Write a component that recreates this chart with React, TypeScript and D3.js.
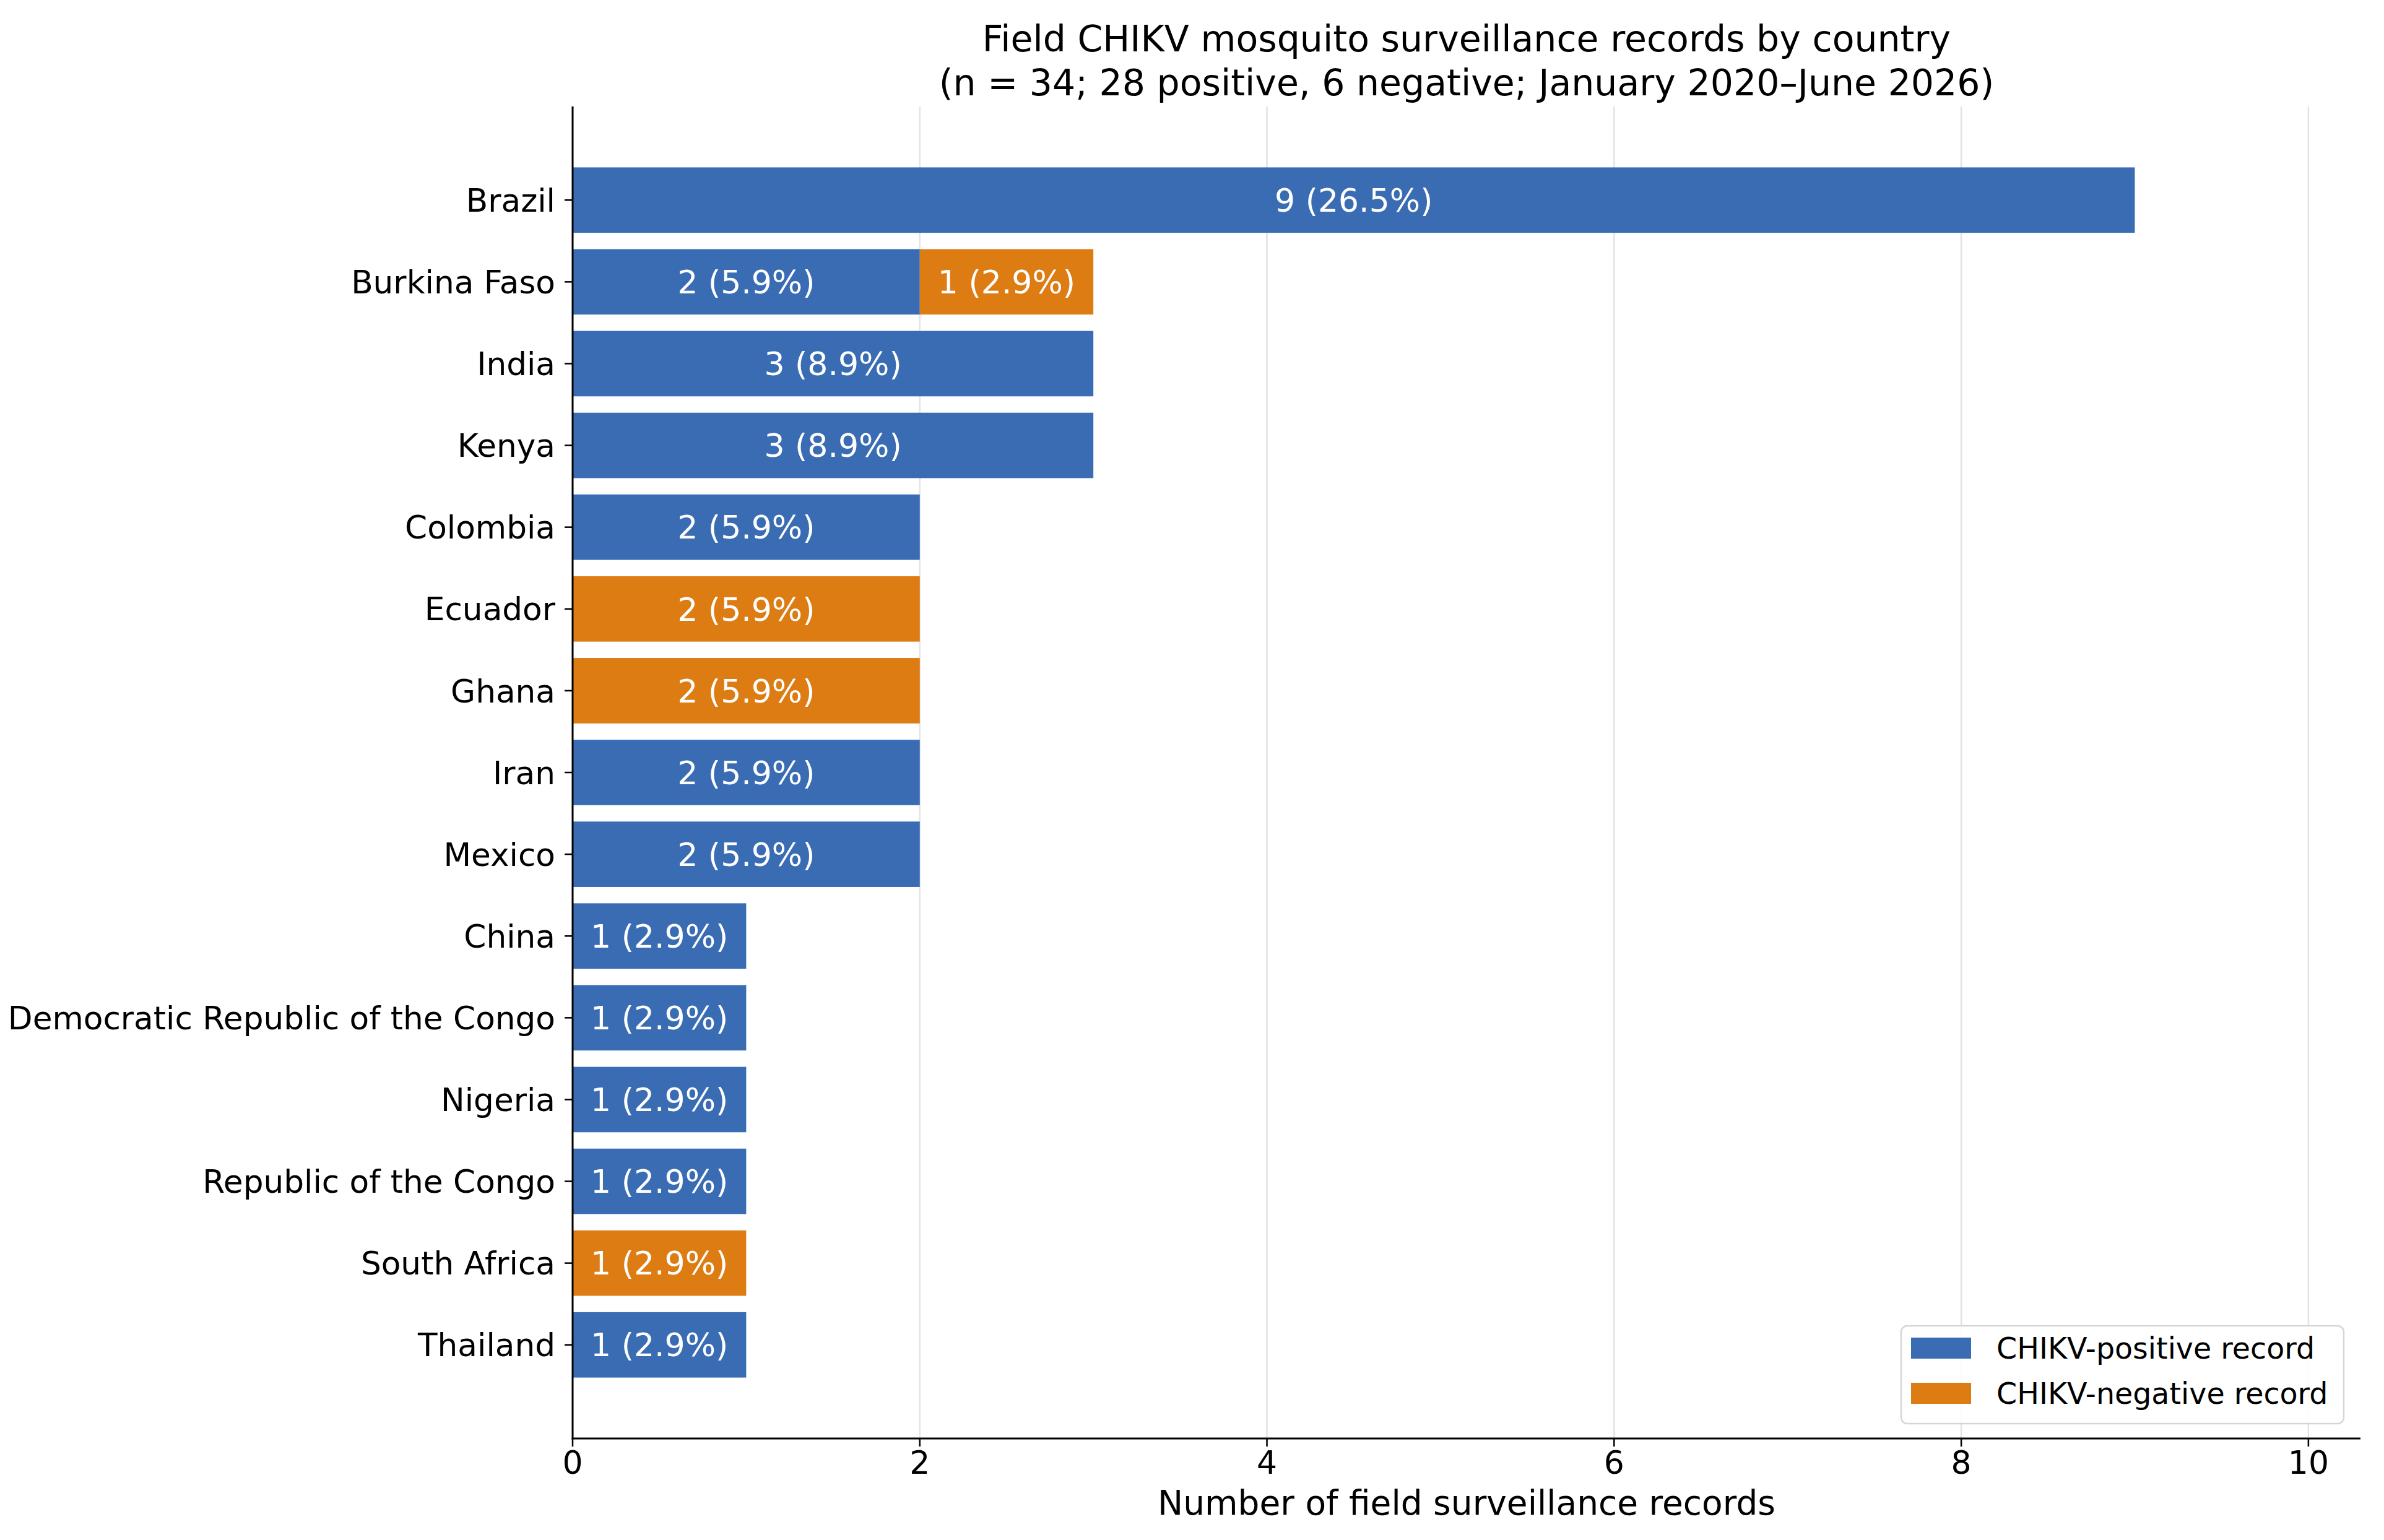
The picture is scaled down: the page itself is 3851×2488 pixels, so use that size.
import * as d3 from "d3";

const countries = [
  "Brazil",
  "Burkina Faso",
  "India",
  "Kenya",
  "Colombia",
  "Ecuador",
  "Ghana",
  "Iran",
  "Mexico",
  "China",
  "Democratic Republic of the Congo",
  "Nigeria",
  "Republic of the Congo",
  "South Africa",
  "Thailand",
];
const positive = [9, 2, 3, 3, 2, 0, 0, 2, 2, 1, 1, 1, 1, 0, 1];
const negative = [0, 1, 0, 0, 0, 2, 2, 0, 0, 0, 0, 0, 0, 1, 0];
// percentages as printed on the bars
const positivePct = ["26.5", "5.9", "8.9", "8.9", "5.9", "", "", "5.9", "5.9", "2.9", "2.9", "2.9", "2.9", "", "2.9"];
const negativePct = ["", "2.9", "", "", "", "5.9", "5.9", "", "", "", "", "", "", "2.9", ""];
const xTicks = [0, 2, 4, 6, 8, 10];

const W = 3851;
const H = 2488;
const BLUE = "#3a6cb4";
const ORANGE = "#dd7c13";
const FONT = "DejaVu Sans, sans-serif";

export default function App() {
  const x = d3.scaleLinear().domain([0, 10.3]).range([925, 3813]);
  const y = d3
    .scaleBand<string>()
    .domain(countries)
    .range([172, 2324])
    .paddingInner(0.2)
    .paddingOuter(0.745);
  const bw = y.bandwidth();
  const [x0, x1] = x.range();
  const [y0, y1] = y.range();

  const legendItems = [
    { label: "CHIKV-positive record", color: BLUE },
    { label: "CHIKV-negative record", color: ORANGE },
  ];

  return (
    <svg
      width={W}
      height={H}
      style={{ position: "absolute", left: 0, top: 0, background: "#fff" }}
      fontFamily={FONT}
    >
      <rect width={W} height={H} fill="#fff" />
      {/* grid */}
      {xTicks.map((t) => (
        <line key={"g" + t} x1={x(t)} x2={x(t)} y1={y0} y2={y1} stroke="#e3e3e3" strokeWidth={2.5} />
      ))}
      {/* bars */}
      {countries.map((c, i) => {
        const yy = y(c)!;
        const pos = positive[i];
        const neg = negative[i];
        return (
          <g key={c}>
            {pos > 0 && (
              <>
                <rect x={x(0)} y={yy} width={x(pos) - x(0)} height={bw} fill={BLUE} />
                <text x={x(pos / 2)} y={yy + bw / 2} dy="0.36em" textAnchor="middle" fill="#fff" fontSize={52}>
                  {`${pos} (${positivePct[i]}%)`}
                </text>
              </>
            )}
            {neg > 0 && (
              <>
                <rect x={x(pos)} y={yy} width={x(pos + neg) - x(pos)} height={bw} fill={ORANGE} />
                <text x={x(pos + neg / 2)} y={yy + bw / 2} dy="0.36em" textAnchor="middle" fill="#fff" fontSize={52}>
                  {`${neg} (${negativePct[i]}%)`}
                </text>
              </>
            )}
          </g>
        );
      })}
      {/* spines */}
      <line x1={x0} x2={x0} y1={y0} y2={y1 + 1.5} stroke="#000" strokeWidth={3} />
      <line x1={x0 - 1.5} x2={x1} y1={y1} y2={y1} stroke="#000" strokeWidth={3} />
      {/* y ticks */}
      {countries.map((c) => {
        const cy = y(c)! + bw / 2;
        return (
          <g key={"t" + c}>
            <line x1={x0 - 13} x2={x0} y1={cy} y2={cy} stroke="#000" strokeWidth={2.5} />
            <text x={897} y={cy} dy="0.36em" textAnchor="end" fontSize={51.7} fill="#000">
              {c}
            </text>
          </g>
        );
      })}
      {/* x ticks */}
      {xTicks.map((t) => (
        <g key={"x" + t}>
          <line x1={x(t)} x2={x(t)} y1={y1} y2={y1 + 13} stroke="#000" strokeWidth={2.5} />
          <text x={x(t)} y={2381} textAnchor="middle" fontSize={52} fill="#000">
            {t}
          </text>
        </g>
      ))}
      <text x={(x0 + x1) / 2} y={2447} textAnchor="middle" fontSize={55} fill="#000">
        Number of field surveillance records
      </text>
      {/* title */}
      <text x={(x0 + x1) / 2} y={83} textAnchor="middle" fontSize={58.5} fill="#000">
        Field CHIKV mosquito surveillance records by country
      </text>
      <text x={(x0 + x1) / 2} y={154} textAnchor="middle" fontSize={58.5} fill="#000">
        (n = 34; 28 positive, 6 negative; January 2020–June 2026)
      </text>
      {/* legend */}
      <rect x={3071} y={2142} width={715} height={158} rx={10} fill="#fff" fillOpacity={0.85} stroke="#d6d6d6" strokeWidth={2.5} />
      {legendItems.map((d, i) => {
        const cy = 2178 + i * 73;
        return (
          <g key={d.label}>
            <rect x={3087} y={cy - 17} width={97} height={34} fill={d.color} />
            <text x={3225} y={cy} dy="0.36em" fontSize={47.5} fill="#000">
              {d.label}
            </text>
          </g>
        );
      })}
    </svg>
  );
}
